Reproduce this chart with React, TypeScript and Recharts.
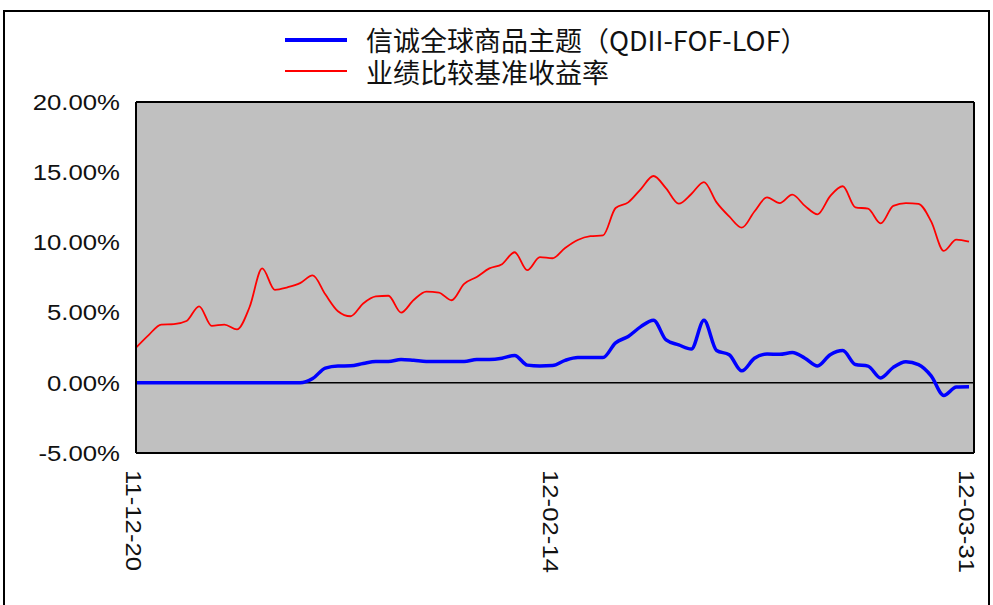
import React from 'react';
import { ComposedChart, Line, XAxis, YAxis, CartesianGrid, ReferenceLine, Legend } from 'recharts';

const dates = [
  '11-12-20', '11-12-21', '11-12-22', '11-12-23', '11-12-26', '11-12-27', '11-12-28', '11-12-29', '11-12-30',
  '12-01-04', '12-01-05', '12-01-06', '12-01-09', '12-01-10', '12-01-11', '12-01-12', '12-01-13', '12-01-16',
  '12-01-17', '12-01-18', '12-01-19', '12-01-20', '12-01-30', '12-01-31',
  '12-02-01', '12-02-02', '12-02-03', '12-02-06', '12-02-07', '12-02-08', '12-02-09', '12-02-10', '12-02-13', '12-02-14',
  '12-02-15', '12-02-16', '12-02-17', '12-02-20', '12-02-21', '12-02-22', '12-02-23', '12-02-24', '12-02-27', '12-02-28', '12-02-29',
  '12-03-01', '12-03-02', '12-03-05', '12-03-06', '12-03-07', '12-03-08', '12-03-09', '12-03-12', '12-03-13', '12-03-14',
  '12-03-15', '12-03-16', '12-03-19', '12-03-20', '12-03-21', '12-03-22', '12-03-23', '12-03-26', '12-03-27', '12-03-28',
  '12-03-29', '12-03-31',
];

// 信诚全球商品主题（QDII-FOF-LOF） cumulative return, %
const fundReturn = [
  0, 0, 0, 0, 0, 0, 0, 0, 0, 0,
  0, 0, 0, 0, 0.3, 1.05, 1.2, 1.21, 1.38, 1.52,
  1.52, 1.66, 1.6, 1.52, 1.52, 1.52, 1.52, 1.66, 1.66, 1.75,
  1.95, 1.26, 1.2, 1.23, 1.6, 1.8, 1.8, 1.8, 2.85, 3.3,
  4.0, 4.46, 3.05, 2.7, 2.4, 4.45, 2.3, 2.0, 0.85, 1.75,
  2.05, 2.03, 2.15, 1.75, 1.2, 2.0, 2.3, 1.3, 1.19, 0.35,
  1.1, 1.5, 1.3, 0.5, -0.9, -0.3, -0.28,
];

// 业绩比较基准收益率, %
const benchReturn = [
  2.5, 3.4, 4.15, 4.18, 4.4, 5.45, 4.06, 4.15, 3.8, 5.4,
  8.15, 6.62, 6.8, 7.1, 7.65, 6.3, 5.1, 4.74, 5.65, 6.15,
  6.2, 5.0, 5.9, 6.5, 6.43, 5.88, 7.05, 7.54, 8.15, 8.45,
  9.3, 8.02, 8.95, 8.87, 9.6, 10.17, 10.44, 10.5, 12.45, 12.85,
  13.8, 14.73, 13.85, 12.76, 13.45, 14.3, 12.85, 11.85, 11.05, 12.2,
  13.2, 12.8, 13.4, 12.6, 12.0, 13.3, 14.0, 12.5, 12.4, 11.35,
  12.6, 12.8, 12.75, 11.5, 9.4, 10.2, 10.05,
];

const seriesNames = ['信诚全球商品主题（QDII-FOF-LOF）', '业绩比较基准收益率'];
const seriesColors = ['#0000ff', '#ff0000'];
const seriesWidths = [3.5, 1.8];
const legendLineWidths = [4, 2];
const yTicks = [-5, 0, 5, 10, 15, 20];
const xTicks = ['11-12-20', '12-02-14', '12-03-31'];

const data = dates.map((d, i) => ({ date: d, fund: fundReturn[i], bench: benchReturn[i] }));

const LABEL_FONT = '"Liberation Sans", Arial, sans-serif';
const STRETCH = 1.17;

const YTick = (props: any) => {
  const { x, y, payload } = props;
  return (
    <text
      transform={`translate(${x},${y}) scale(${STRETCH},1)`}
      x={0}
      y={0}
      dy="0.355em"
      textAnchor="end"
      fontFamily={LABEL_FONT}
      fontSize={22}
      fill="#111"
    >
      {Number(payload.value).toFixed(2)}%
    </text>
  );
};

const XTick = (props: any) => {
  const { x, y, payload } = props;
  return (
    <text
      transform={`translate(${x - 2},${y}) rotate(90) scale(${STRETCH},1)`}
      x={0}
      y={0}
      dy="0.355em"
      textAnchor="start"
      fontFamily={LABEL_FONT}
      fontSize={22}
      fill="#111"
    >
      {payload.value}
    </text>
  );
};

const LegendContent = () => (
  <div style={{ fontFamily: '"Noto Sans CJK SC", sans-serif', fontSize: 27, color: '#111' }}>
    {seriesNames.map((name, i) => (
      <div key={i} style={{ display: 'flex', alignItems: 'center', height: 31.5, whiteSpace: 'nowrap' }}>
        <svg width={62} height={8} style={{ display: 'block', marginRight: 19 }}>
          <line x1={0} x2={62} y1={4} y2={4} stroke={seriesColors[i]} strokeWidth={legendLineWidths[i]} />
        </svg>
        <span style={{ display: 'inline-block', height: 31.5, lineHeight: '31.5px', overflow: 'visible' }}>{name}</span>
      </div>
    ))}
  </div>
);

const axisStroke = { stroke: '#000', strokeWidth: 2 };

export default function App() {
  return (
    <div style={{ position: 'fixed', left: 0, top: 0, width: 993, height: 605, background: '#fff', overflow: 'hidden' }}>
      <div
        style={{
          position: 'absolute',
          left: 3,
          top: 10,
          width: 987,
          height: 700,
          border: '2px solid #000',
          boxSizing: 'border-box',
        }}
      />
      <div style={{ position: 'absolute', left: 0, top: 0 }}>
        <ComposedChart width={993} height={605} data={data} margin={{ top: 102, right: 19, bottom: 92, left: 6 }}>
          <CartesianGrid fill="#c0c0c0" horizontal={false} vertical={false} stroke="none" />
          <XAxis
            dataKey="date"
            type="category"
            ticks={xTicks}
            interval={0}
            height={60}
            padding={{ left: 0, right: 5 }}
            tickLine={false}
            tickSize={0}
            tickMargin={17}
            axisLine={axisStroke}
            tick={XTick}
          />
          <XAxis
            xAxisId="bm"
            dataKey="date"
            type="category"
            orientation="bottom"
            mirror
            ticks={xTicks}
            interval={0}
            padding={{ left: 0, right: 5 }}
            tick={false}
            tickSize={8}
            tickLine={axisStroke}
            axisLine={false}
          />
          <XAxis
            xAxisId="top"
            dataKey="date"
            type="category"
            orientation="top"
            mirror
            ticks={xTicks}
            interval={0}
            padding={{ left: 0, right: 5 }}
            tick={false}
            tickSize={8}
            tickLine={axisStroke}
            axisLine={axisStroke}
          />
          <YAxis
            type="number"
            domain={[-5, 20]}
            ticks={yTicks}
            interval={0}
            width={130}
            tickLine={false}
            tickSize={0}
            tickMargin={16}
            axisLine={axisStroke}
            tick={YTick}
          />
          <YAxis
            yAxisId="lm"
            type="number"
            orientation="left"
            mirror
            domain={[-5, 20]}
            ticks={yTicks}
            interval={0}
            tick={false}
            tickSize={8}
            tickLine={axisStroke}
            axisLine={false}
          />
          <YAxis
            yAxisId="r"
            type="number"
            orientation="right"
            mirror
            domain={[-5, 20]}
            ticks={yTicks}
            interval={0}
            tick={false}
            tickSize={8}
            tickLine={axisStroke}
            axisLine={axisStroke}
          />
          <ReferenceLine y={0} stroke="#000" strokeWidth={1.5} />
          <Line
            type="monotone"
            dataKey="fund"
            name={seriesNames[0]}
            stroke={seriesColors[0]}
            strokeWidth={seriesWidths[0]}
            dot={false}
            activeDot={false}
            isAnimationActive={false}
          />
          <Line
            type="monotone"
            dataKey="bench"
            name={seriesNames[1]}
            stroke={seriesColors[1]}
            strokeWidth={seriesWidths[1]}
            dot={false}
            activeDot={false}
            isAnimationActive={false}
          />
          <Legend
            layout="horizontal"
            verticalAlign="middle"
            align="center"
            content={LegendContent}
            wrapperStyle={{ position: 'absolute', top: 24, left: 285, width: 'auto', height: 'auto' }}
          />
        </ComposedChart>
      </div>
    </div>
  );
}
